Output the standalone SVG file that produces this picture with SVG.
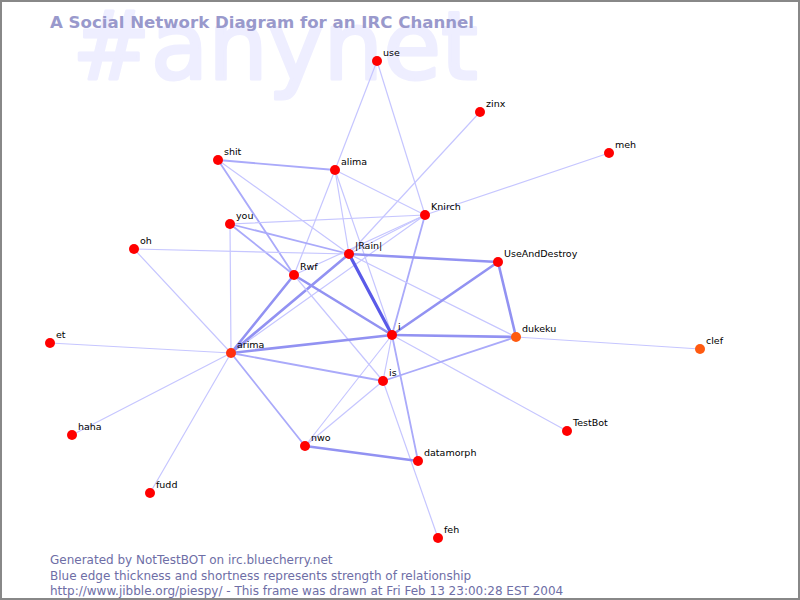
<svg xmlns="http://www.w3.org/2000/svg" width="800" height="600" viewBox="0 0 800 600">
<style>
.bg{fill:#ffffff}
.frame{fill:none;stroke:#888888;stroke-width:2}
.watermark{font-family:"DejaVu Sans",sans-serif;font-size:94px;fill:#eeeeff;stroke:#eeeeff;stroke-width:3;stroke-linejoin:round}
.title{font-family:"DejaVu Sans",sans-serif;font-size:16.6px;font-weight:bold;fill:#9999cc}
.foot{font-family:"DejaVu Sans",sans-serif;font-size:12px;fill:#6e6ea6}
.lbl{font-family:"DejaVu Sans",sans-serif;font-size:9.5px;fill:#000000}
.n{fill:#ff0000}
.no{fill:#ff5a10}
.na{fill:#ff3010}
line{stroke-linecap:round}
.e1{stroke:#c6c6ff;stroke-width:1.2}
.e2{stroke:#aaaafa;stroke-width:1.8}
.e3{stroke:#9292f2;stroke-width:2.6}
.e4{stroke:#5a5ae8;stroke-width:3.2}
</style>
<rect class="bg" x="0" y="0" width="800" height="600"/>
<text class="watermark" x="72" y="79">#anynet</text>
<text class="title" x="50" y="28">A Social Network Diagram for an IRC Channel</text>
<g id="connectors">
<line class="e1" x1="377" y1="61" x2="335" y2="170"/>
<line class="e1" x1="377" y1="61" x2="425" y2="215"/>
<line class="e1" x1="480" y1="112" x2="349" y2="254"/>
<line class="e1" x1="609" y1="153" x2="425" y2="215"/>
<line class="e1" x1="335" y1="170" x2="425" y2="215"/>
<line class="e1" x1="335" y1="170" x2="294" y2="275"/>
<line class="e1" x1="335" y1="170" x2="349" y2="254"/>
<line class="e1" x1="335" y1="170" x2="392" y2="335"/>
<line class="e2" x1="218" y1="160" x2="335" y2="170"/>
<line class="e1" x1="218" y1="160" x2="349" y2="254"/>
<line class="e2" x1="218" y1="160" x2="294" y2="275"/>
<line class="e1" x1="230" y1="224" x2="425" y2="215"/>
<line class="e2" x1="230" y1="224" x2="349" y2="254"/>
<line class="e2" x1="230" y1="224" x2="294" y2="275"/>
<line class="e1" x1="230" y1="224" x2="231" y2="353"/>
<line class="e1" x1="134" y1="249" x2="349" y2="254"/>
<line class="e1" x1="134" y1="249" x2="231" y2="353"/>
<line class="e1" x1="425" y1="215" x2="349" y2="254"/>
<line class="e1" x1="425" y1="215" x2="294" y2="275"/>
<line class="e1" x1="425" y1="215" x2="231" y2="353"/>
<line class="e2" x1="425" y1="215" x2="392" y2="335"/>
<line class="e1" x1="349" y1="254" x2="516" y2="337"/>
<line class="e3" x1="349" y1="254" x2="498" y2="262"/>
<line class="e3" x1="349" y1="254" x2="231" y2="353"/>
<line class="e3" x1="294" y1="275" x2="231" y2="353"/>
<line class="e3" x1="294" y1="275" x2="392" y2="335"/>
<line class="e1" x1="294" y1="275" x2="383" y2="381"/>
<line class="e3" x1="498" y1="262" x2="392" y2="335"/>
<line class="e3" x1="498" y1="262" x2="516" y2="337"/>
<line class="e3" x1="392" y1="335" x2="516" y2="337"/>
<line class="e3" x1="392" y1="335" x2="231" y2="353"/>
<line class="e1" x1="392" y1="335" x2="567" y2="431"/>
<line class="e2" x1="392" y1="335" x2="418" y2="461"/>
<line class="e1" x1="392" y1="335" x2="383" y2="381"/>
<line class="e1" x1="392" y1="335" x2="305" y2="446"/>
<line class="e1" x1="516" y1="337" x2="700" y2="349"/>
<line class="e2" x1="516" y1="337" x2="383" y2="381"/>
<line class="e2" x1="231" y1="353" x2="383" y2="381"/>
<line class="e2" x1="231" y1="353" x2="305" y2="446"/>
<line class="e1" x1="231" y1="353" x2="50" y2="343"/>
<line class="e1" x1="231" y1="353" x2="72" y2="435"/>
<line class="e1" x1="231" y1="353" x2="150" y2="493"/>
<line class="e1" x1="383" y1="381" x2="305" y2="446"/>
<line class="e1" x1="383" y1="381" x2="438" y2="538"/>
<line class="e3" x1="305" y1="446" x2="418" y2="461"/>
<line class="e4" x1="349" y1="254" x2="392" y2="335"/>
</g>
<g id="node-use"><circle class="n" cx="377" cy="61" r="5"/><text class="lbl" x="383" y="56">use</text></g>
<g id="node-zinx"><circle class="n" cx="480" cy="112" r="5"/><text class="lbl" x="486" y="107">zinx</text></g>
<g id="node-meh"><circle class="n" cx="609" cy="153" r="5"/><text class="lbl" x="615" y="148">meh</text></g>
<g id="node-shit"><circle class="n" cx="218" cy="160" r="5"/><text class="lbl" x="224" y="155">shit</text></g>
<g id="node-alima"><circle class="n" cx="335" cy="170" r="5"/><text class="lbl" x="341" y="165">alima</text></g>
<g id="node-Knirch"><circle class="n" cx="425" cy="215" r="5"/><text class="lbl" x="431" y="210">Knirch</text></g>
<g id="node-you"><circle class="n" cx="230" cy="224" r="5"/><text class="lbl" x="236" y="219">you</text></g>
<g id="node-oh"><circle class="n" cx="134" cy="249" r="5"/><text class="lbl" x="140" y="244">oh</text></g>
<g id="node-Rain"><circle class="n" cx="349" cy="254" r="5"/><text class="lbl" x="355" y="249">|Rain|</text></g>
<g id="node-UseAndDestroy"><circle class="n" cx="498" cy="262" r="5"/><text class="lbl" x="504" y="257">UseAndDestroy</text></g>
<g id="node-Rwf"><circle class="n" cx="294" cy="275" r="5"/><text class="lbl" x="300" y="270">Rwf</text></g>
<g id="node-i"><circle class="n" cx="392" cy="335" r="5"/><text class="lbl" x="398" y="330">i</text></g>
<g id="node-dukeku"><circle class="no" cx="516" cy="337" r="5"/><text class="lbl" x="522" y="332">dukeku</text></g>
<g id="node-clef"><circle class="no" cx="700" cy="349" r="5"/><text class="lbl" x="706" y="344">clef</text></g>
<g id="node-et"><circle class="n" cx="50" cy="343" r="5"/><text class="lbl" x="56" y="338">et</text></g>
<g id="node-arima"><circle class="na" cx="231" cy="353" r="5"/><text class="lbl" x="237" y="348">arima</text></g>
<g id="node-is"><circle class="n" cx="383" cy="381" r="5"/><text class="lbl" x="389" y="376">is</text></g>
<g id="node-haha"><circle class="n" cx="72" cy="435" r="5"/><text class="lbl" x="78" y="430">haha</text></g>
<g id="node-TestBot"><circle class="n" cx="567" cy="431" r="5"/><text class="lbl" x="573" y="426">TestBot</text></g>
<g id="node-nwo"><circle class="n" cx="305" cy="446" r="5"/><text class="lbl" x="311" y="441">nwo</text></g>
<g id="node-datamorph"><circle class="n" cx="418" cy="461" r="5"/><text class="lbl" x="424" y="456">datamorph</text></g>
<g id="node-fudd"><circle class="n" cx="150" cy="493" r="5"/><text class="lbl" x="156" y="488">fudd</text></g>
<g id="node-feh"><circle class="n" cx="438" cy="538" r="5"/><text class="lbl" x="444" y="533">feh</text></g>
<text class="foot" x="50" y="564">Generated by NotTestBOT on irc.bluecherry.net</text>
<text class="foot" x="50" y="580">Blue edge thickness and shortness represents strength of relationship</text>
<text class="foot" x="50" y="595">http://www.jibble.org/piespy/ - This frame was drawn at Fri Feb 13 23:00:28 EST 2004</text>
<rect class="frame" x="1" y="1" width="798" height="598"/>
</svg>
